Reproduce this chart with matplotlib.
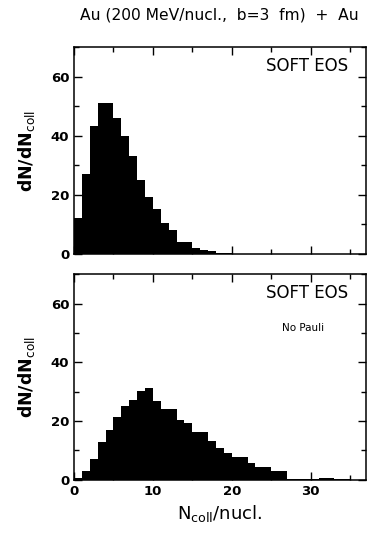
import matplotlib
matplotlib.use("Agg")
import matplotlib.pyplot as plt
import numpy as np
from matplotlib.ticker import MultipleLocator

# bin edges of N_coll/nucl. (unit-width bins)
bin_lo = 0
bin_hi = 37

# dN/dN_coll, soft EOS
soft_eos = [12, 27, 43.2, 51, 51, 46, 39.9, 33.2, 25.1, 19.2, 15.1, 10.3, 8,
            4.1, 4.1, 2.1, 1.1, 0.8, 0.3, 0.1, 0, 0, 0, 0, 0, 0, 0, 0, 0, 0,
            0, 0, 0, 0, 0, 0, 0]

# dN/dN_coll, soft EOS without Pauli blocking
soft_eos_no_pauli = [0.5, 3.1, 7.0, 13.0, 16.9, 21.3, 25.0, 27.3, 30.4, 31.3,
                     27.0, 24.2, 24.2, 20.3, 19.4, 16.3, 16.3, 13.3, 11.0, 9.0,
                     7.9, 7.9, 5.6, 4.3, 4.3, 2.9, 2.9, 0.3, 0.3, 0.3, 0.2,
                     0.6, 0.6, 0.2, 0.2, 0.1, 0.1]

panels = [
    (soft_eos, "SOFT EOS", None),
    (soft_eos_no_pauli, "SOFT EOS", "No Pauli"),
]

edges = np.arange(bin_lo, bin_hi + 1)

fig = plt.figure(figsize=(3.70, 5.41), dpi=100)
ax_top = fig.add_axes([0.200, 0.531, 0.789, 0.382])
ax_bot = fig.add_axes([0.200, 0.113, 0.789, 0.380])

for ax, (vals, label, sub) in zip([ax_top, ax_bot], panels):
    ax.stairs(vals, edges, fill=True, color="black", baseline=0)
    ax.set_xlim(bin_lo, bin_hi)
    ax.set_ylim(0, 70)
    ax.xaxis.set_major_locator(MultipleLocator(10))
    ax.xaxis.set_minor_locator(MultipleLocator(5))
    ax.yaxis.set_major_locator(MultipleLocator(20))
    ax.yaxis.set_minor_locator(MultipleLocator(10))
    ax.tick_params(which="both", direction="in", top=True, right=True,
                   labelsize=9.5, width=1.0)
    ax.tick_params(which="major", length=6)
    ax.tick_params(which="minor", length=3.5)
    for t in ax.get_xticklabels() + ax.get_yticklabels():
        t.set_fontweight("bold")
    for s in ax.spines.values():
        s.set_linewidth(1.1)
    ax.set_ylabel(r"dN/dN$_{\rm coll}$", fontsize=12.5, labelpad=10,
                  fontweight="bold")
    ax.text(0.94, 0.91, label, transform=ax.transAxes, ha="right",
            va="center", fontsize=12)
    if sub:
        ax.text(0.785, 0.74, sub, transform=ax.transAxes, ha="center",
                va="center", fontsize=7.5)

ax_top.tick_params(labelbottom=False)
ax_bot.set_xlabel(r"N$_{\rm coll}$/nucl.", fontsize=13, labelpad=4)

fig.text(80 / 370, 1 - 15 / 541, "Au (200 MeV/nucl.,  b=3  fm)  +  Au",
         ha="left", va="center", fontsize=11.2)

fig.savefig("out.png", dpi=100)
